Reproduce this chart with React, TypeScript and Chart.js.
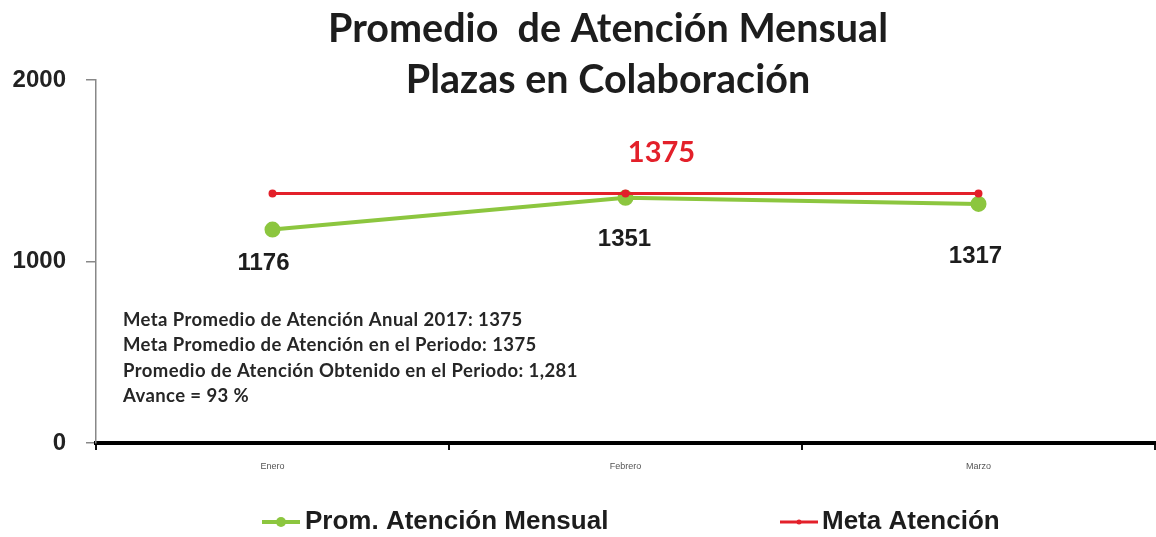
import React, { useEffect, useRef } from "react";
import { Chart, registerables } from "chart.js";

Chart.register(...registerables);

// ---- data ----
const months = ["Enero", "Febrero", "Marzo"];
const promedioMensual = [1176, 1351, 1317];
const metaAtencion = [1375, 1375, 1375];
const yMin = 0;
const yMax = 2000;
const yStep = 1000;
const titleLines = ["Promedio  de Atención Mensual", "Plazas en Colaboración"];
const notes = [
  "Meta Promedio de Atención Anual 2017: 1375",
  "Meta Promedio de Atención en el Periodo: 1375",
  "Promedio de Atención Obtenido en el Periodo: 1,281",
  "Avance = 93 %",
];
const seriesNames = ["Prom. Atención Mensual", "Meta Atención"];
const metaLabelIndex = 1;

// ---- styles ----
const GREEN = "#8CC63F";
const RED = "#E3202A";
const TEXT = "#1d1d1d";
const SANS = "'Liberation Sans', Arial, sans-serif";
const LATO = "Lato, 'Open Sans', sans-serif";
const valueLabelOffsets = [
  [-9, 34],
  [-1, 42],
  [-3, 52],
];
const metaLabelOffset = [36, -41];
const legendPos = [
  { x1: 262, x2: 300, r: 5, tx: 305 },
  { x1: 780, x2: 818, r: 2.5, tx: 822 },
];

const decorPlugin = {
  id: "decor",
  afterDatasetsDraw(chart: any) {
    const ctx = chart.ctx as CanvasRenderingContext2D;
    ctx.save();
    // title
    ctx.fillStyle = TEXT;
    ctx.font = `bold 39.5px ${LATO}`;
    ctx.textAlign = "center";
    ctx.textBaseline = "alphabetic";
    titleLines.forEach((t, i) => ctx.fillText(t, 608, 42 + i * 51));

    // value labels for green series
    const gMeta = chart.getDatasetMeta(0);
    ctx.font = `bold 24px ${SANS}`;
    ctx.fillStyle = TEXT;
    ctx.textBaseline = "middle";
    gMeta.data.forEach((pt: any, i: number) => {
      const v = chart.data.datasets[0].data[i];
      const [dx, dy] = valueLabelOffsets[i];
      ctx.fillText(String(v), pt.x + dx, pt.y + dy);
    });

    // meta label
    const rMeta = chart.getDatasetMeta(1);
    const rp = rMeta.data[metaLabelIndex];
    ctx.font = `bold 29px ${LATO}`;
    ctx.fillStyle = RED;
    ctx.fillText(
      String(chart.data.datasets[1].data[metaLabelIndex]),
      rp.x + metaLabelOffset[0],
      rp.y + metaLabelOffset[1]
    );

    // notes block
    ctx.font = `bold 18.5px ${LATO}`;
    (ctx as any).letterSpacing = "0.4px";
    ctx.fillStyle = "#262626";
    ctx.textAlign = "left";
    notes.forEach((n, i) => ctx.fillText(n, 123, 320 + i * 25.5));
    (ctx as any).letterSpacing = "0px";

    // legend
    const ly = 522;
    chart.data.datasets.forEach((ds: any, i: number) => {
      const p = legendPos[i];
      ctx.strokeStyle = ds.borderColor;
      ctx.lineWidth = i === 0 ? 4 : 3;
      ctx.beginPath();
      ctx.moveTo(p.x1, ly);
      ctx.lineTo(p.x2, ly);
      ctx.stroke();
      ctx.fillStyle = ds.borderColor;
      ctx.beginPath();
      ctx.arc((p.x1 + p.x2) / 2, ly, p.r, 0, Math.PI * 2);
      ctx.fill();
      ctx.fillStyle = TEXT;
      ctx.font = `bold 26px ${SANS}`;
      ctx.textAlign = "left";
      ctx.textBaseline = "middle";
      ctx.fillText(ds.label, p.tx, ly);
    });
    ctx.restore();
  },
};

export default function App() {
  const ref = useRef<HTMLCanvasElement | null>(null);

  useEffect(() => {
    if (!ref.current) return;
    const chart = new Chart(ref.current, {
      type: "line",
      data: {
        labels: months,
        datasets: [
          {
            label: seriesNames[0],
            data: promedioMensual,
            borderColor: GREEN,
            backgroundColor: GREEN,
            borderWidth: 4,
            pointRadius: 6,
            pointBackgroundColor: GREEN,
            pointBorderColor: GREEN,
            order: 1,
          },
          {
            label: seriesNames[1],
            data: metaAtencion,
            borderColor: RED,
            backgroundColor: RED,
            borderWidth: 3,
            pointRadius: 2.5,
            pointBackgroundColor: RED,
            pointBorderColor: RED,
            order: 0,
          },
        ],
      },
      options: {
        responsive: false,
        animation: false,
        layout: { padding: { top: 80, left: 0, right: 5, bottom: 64 } },
        plugins: {
          legend: { display: false },
          tooltip: { enabled: false },
          title: { display: false },
        },
        scales: {
          x: {
            type: "category",
            offset: true,
            grid: {
              offset: true,
              drawOnChartArea: false,
              tickLength: 7,
              color: "#111",
              lineWidth: 2,
            },
            border: { color: "#000", width: 4 },
            ticks: {
              font: { size: 9, family: SANS },
              color: "#555",
              padding: 11,
            },
            afterFit: (s: any) => {
              s.height = 30;
            },
          },
          y: {
            min: yMin,
            max: yMax,
            ticks: {
              stepSize: yStep,
              font: { size: 24, weight: "bold", family: SANS },
              color: "#222",
              padding: 20,
              callback: (v: any) => String(v),
            },
            grid: {
              drawOnChartArea: false,
              tickLength: 10,
              color: "#888",
              lineWidth: 1.5,
            },
            border: { color: "#888", width: 1.5 },
            afterFit: (s: any) => {
              s.width = 96;
            },
          },
        },
      },
      plugins: [decorPlugin],
    } as any);
    return () => chart.destroy();
  }, []);

  return (
    <div
      style={{
        position: "fixed",
        left: 0,
        top: 0,
        width: 1156,
        height: 537,
        overflow: "hidden",
        background: "#fff",
      }}
    >
      <canvas ref={ref} width={1165} height={537} style={{ display: "block" }} />
    </div>
  );
}
